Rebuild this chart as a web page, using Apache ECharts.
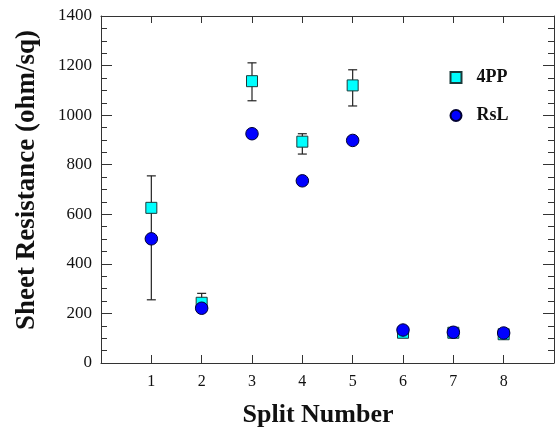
<!DOCTYPE html>
<html>
<head>
<meta charset="utf-8">
<script src="https://cdn.jsdelivr.net/npm/echarts@6/dist/echarts.min.js"></script>
<style>html,body{margin:0;padding:0;background:#fff}#c{width:555px;height:431px}</style>
</head>
<body>
<div id="c"></div>
<script>
const splits = [1, 2, 3, 4, 5, 6, 7, 8];
const pp4 = [626, 243, 1137, 893, 1120, 122, 122, 116];
const rsl = [501, 221, 925, 735, 898, 133, 124, 121];
const errLow = [255, 205, 1058, 843, 1037, null, null, null];
const errHigh = [755, 281, 1211, 925, 1183, null, null, null];
const yTicks = [0, 200, 400, 600, 800, 1000, 1200, 1400];
const xTitle = 'Split Number';
const yTitle = 'Sheet Resistance (ohm/sq)';

const FONT = '"Liberation Serif", "Times New Roman", serif';
const chart = echarts.init(document.getElementById('c'));
const errData = splits.map((s, i) => [s, errLow[i], errHigh[i]]).filter(d => d[1] != null);
const lineColor = '#333';

chart.setOption({
  animation: false,
  backgroundColor: '#fff',
  grid: { left: 101, right: 1, top: 16, bottom: 68, containLabel: false, outerBoundsMode: 'none' },
  legend: {
    orient: 'vertical', left: 449.5, top: 68.5, padding: 0, itemWidth: 11, itemHeight: 11, itemGap: 20,
    textStyle: { fontFamily: FONT, fontWeight: 'bold', fontSize: 18, color: '#111', padding: [0, 0, 0, 10] },
    data: [{ name: '4PP', icon: 'rect' }, { name: 'RsL', icon: 'circle' }]
  },
  graphic: [{
    type: 'text', x: 318, y: 415,
    style: { text: xTitle, fontFamily: FONT, fontWeight: 'bold', fontSize: 26, fill: '#111',
      textAlign: 'center', textVerticalAlign: 'middle' }
  }, {
    type: 'text', x: 27, y: 180, rotation: Math.PI / 2,
    style: { text: yTitle, fontFamily: FONT, fontWeight: 'bold', fontSize: 27, fill: '#111',
      textAlign: 'center', textVerticalAlign: 'middle' }
  }],
  xAxis: [{
    type: 'value', min: 0, max: 9, interval: 1,
    axisLine: { show: true, onZero: false, lineStyle: { color: lineColor, width: 1 } },
    axisTick: { show: true, inside: true, length: 8, lineStyle: { color: lineColor } },
    axisLabel: { fontFamily: FONT, fontSize: 16, color: '#111', margin: 11,
      formatter: v => (v >= 1 && v <= 8) ? String(v) : '' },
    splitLine: { show: false }
  }, {
    type: 'value', min: 0, max: 9, interval: 1, position: 'top',
    axisLine: { show: true, onZero: false, lineStyle: { color: lineColor, width: 1 } },
    axisTick: { show: true, inside: true, length: 7, lineStyle: { color: lineColor } },
    axisLabel: { show: false }, splitLine: { show: false }
  }],
  yAxis: [{
    type: 'value', min: 0, max: 1400, interval: 200,
    axisLine: { show: true, onZero: false, lineStyle: { color: lineColor, width: 1 } },
    axisTick: { show: true, inside: true, length: 11, lineStyle: { color: lineColor } },
    minorTick: { show: true, splitNumber: 4, length: 6, lineStyle: { color: lineColor } },
    axisLabel: { fontFamily: FONT, fontSize: 17, color: '#111', margin: 9,
      formatter: v => yTicks.includes(v) ? String(v) : '' },
    splitLine: { show: false }
  }, {
    type: 'value', min: 0, max: 1400, interval: 200, position: 'right',
    axisLine: { show: true, onZero: false, lineStyle: { color: lineColor, width: 1 } },
    axisTick: { show: true, inside: true, length: 11, lineStyle: { color: lineColor } },
    minorTick: { show: true, splitNumber: 4, length: 6, lineStyle: { color: lineColor } },
    axisLabel: { show: false }, splitLine: { show: false }
  }],
  series: [{
    type: 'custom', name: 'err', z: 1,
    data: errData,
    renderItem: function (params, api) {
      const x = api.value(0);
      const lo = api.coord([x, api.value(1)]);
      const hi = api.coord([x, api.value(2)]);
      const w = 4.5;
      const st = { stroke: '#222', lineWidth: 1.2 };
      return { type: 'group', children: [
        { type: 'line', shape: { x1: lo[0], y1: lo[1], x2: hi[0], y2: hi[1] }, style: st },
        { type: 'line', shape: { x1: lo[0] - w, y1: lo[1], x2: lo[0] + w, y2: lo[1] }, style: st },
        { type: 'line', shape: { x1: hi[0] - w, y1: hi[1], x2: hi[0] + w, y2: hi[1] }, style: st }
      ] };
    }
  }, {
    type: 'scatter', name: '4PP', z: 3, symbol: 'rect', symbolSize: 11,
    itemStyle: { color: '#00FFFF', borderColor: '#1a3a3a', borderWidth: 1, opacity: 1 },
    data: splits.map((s, i) => [s, pp4[i]])
  }, {
    type: 'scatter', name: 'RsL', z: 4, symbol: 'circle', symbolSize: 12.5,
    itemStyle: { color: '#0000FF', borderColor: '#000033', borderWidth: 1, opacity: 1 },
    data: splits.map((s, i) => [s, rsl[i]])
  }]
});
</script>
</body>
</html>
